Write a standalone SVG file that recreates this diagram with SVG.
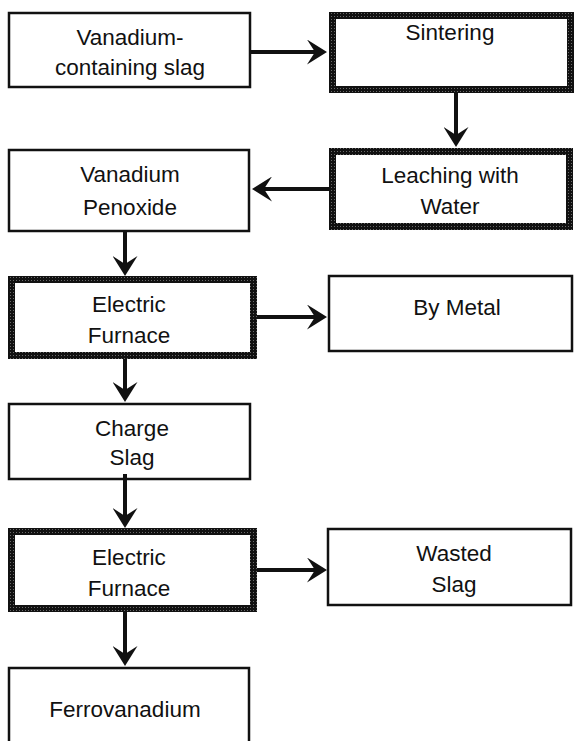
<svg xmlns="http://www.w3.org/2000/svg" width="575" height="741" viewBox="0 0 575 741">
<style>
  .thin { fill: #fff; stroke: #111; stroke-width: 2.5; }
  .thick { fill: #fff; stroke: url(#speck); stroke-width: 7; }
  text { font-family: "Liberation Sans", Arial, sans-serif; font-size: 22.5px; fill: #111; text-anchor: middle; }
  .conn line { stroke: #111; stroke-width: 4; marker-end: url(#head); }
</style>
<defs>
  <pattern id="speck" patternUnits="userSpaceOnUse" width="3" height="3">
    <rect width="3" height="3" fill="#111"/>
    <rect x="1" y="1" width="1" height="1" fill="#6a6a6a"/>
  </pattern>
  <marker id="head" viewBox="0 0 20 25" refX="8" refY="12.5" markerWidth="20" markerHeight="25" markerUnits="userSpaceOnUse" orient="auto">
    <path d="M20,12.5 L0,0 L8,12.5 L0,25 Z" fill="#111"/>
  </marker>
</defs>

<g id="slag">
  <rect class="thin" x="9" y="13" width="241" height="74"/>
  <text x="130" y="45">Vanadium-</text>
  <text x="130" y="75">containing slag</text>
</g>
<g id="sintering">
  <rect class="thick" x="332.5" y="15.5" width="238" height="74"/>
  <text x="450" y="40">Sintering</text>
</g>
<g id="leaching">
  <rect class="thick" x="332.5" y="151.5" width="237" height="75"/>
  <text x="450" y="183">Leaching with</text>
  <text x="450" y="214">Water</text>
</g>
<g id="penoxide">
  <rect class="thin" x="9" y="150" width="240" height="81"/>
  <text x="130" y="182">Vanadium</text>
  <text x="130" y="215">Penoxide</text>
</g>
<g id="furnace1">
  <rect class="thick" x="11.5" y="279.5" width="242" height="76"/>
  <text x="129" y="312">Electric</text>
  <text x="129" y="343">Furnace</text>
</g>
<g id="bymetal">
  <rect class="thin" x="329" y="276" width="243" height="75"/>
  <text x="457" y="315">By Metal</text>
</g>
<g id="chargeslag">
  <rect class="thin" x="9" y="404" width="241" height="75"/>
  <text x="132" y="436">Charge</text>
  <text x="132" y="465">Slag</text>
</g>
<g id="furnace2">
  <rect class="thick" x="11.5" y="531.5" width="242" height="77"/>
  <text x="129" y="565">Electric</text>
  <text x="129" y="596">Furnace</text>
</g>
<g id="wastedslag">
  <rect class="thin" x="328" y="529" width="243" height="76"/>
  <text x="454" y="561">Wasted</text>
  <text x="454" y="592">Slag</text>
</g>
<g id="ferrovanadium">
  <rect class="thin" x="9" y="668" width="240" height="100"/>
  <text x="125" y="717">Ferrovanadium</text>
</g>

<g id="connectors" class="conn">
  <line x1="251" y1="52" x2="315" y2="52"/>
  <line x1="456" y1="93" x2="456" y2="135"/>
  <line x1="329" y1="189" x2="264" y2="189"/>
  <line x1="125" y1="232" x2="125" y2="264"/>
  <line x1="257" y1="317" x2="315" y2="317"/>
  <line x1="125" y1="359" x2="125" y2="390"/>
  <line x1="125" y1="474" x2="125" y2="516"/>
  <line x1="257" y1="570" x2="315" y2="570"/>
  <line x1="125" y1="612" x2="125" y2="654"/>
</g>
</svg>
